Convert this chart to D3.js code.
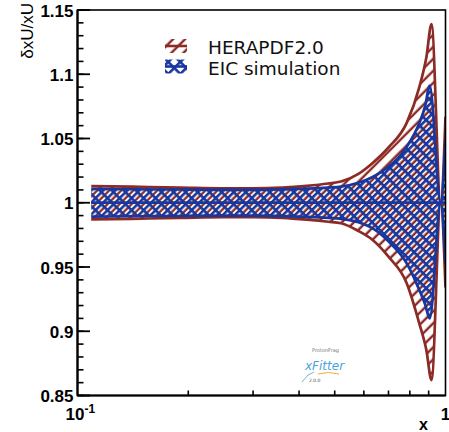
<!DOCTYPE html>
<html>
<head>
<meta charset="utf-8">
<script src="https://cdn.jsdelivr.net/npm/d3@7"></script>
<style>
  body { margin: 0; background: #fff; }
  svg { display: block; }
</style>
</head>
<body>
<div id="chart"></div>
<script>
// band edges
var heraX  = [0.109, 0.14, 0.19, 0.25, 0.30, 0.36, 0.42, 0.48, 0.52, 0.58, 0.634, 0.70, 0.784, 0.849, 0.887, 0.916, 0.97, 1.0];
var heraUp = [1.013, 1.0125, 1.0118, 1.0112, 1.0112, 1.0118, 1.0132, 1.0150, 1.0165, 1.0225, 1.031, 1.043, 1.062, 1.090, 1.113, 1.139, 1.0, 1.067];
var heraDn = [0.987, 0.9875, 0.9882, 0.9888, 0.9888, 0.9882, 0.9868, 0.9852, 0.984, 0.978, 0.971, 0.958, 0.9376, 0.906, 0.8855, 0.862, 1.0, 0.934];

var eicX  = [0.109, 0.14, 0.19, 0.25, 0.30, 0.36, 0.42, 0.48, 0.52, 0.58, 0.634, 0.70, 0.784, 0.849, 0.88, 0.906, 0.97, 1.0];
var eicUp = [1.0108, 1.0105, 1.0103, 1.0100, 1.0100, 1.0104, 1.0110, 1.0118, 1.0125, 1.0155, 1.020, 1.028, 1.0433, 1.062, 1.075, 1.091, 1.0, 1.049];
var eicDn = [0.9892, 0.9895, 0.9897, 0.99, 0.99, 0.9896, 0.989, 0.9882, 0.9875, 0.9848, 0.980, 0.970, 0.953, 0.932, 0.921, 0.910, 1.0, 0.953];

var yMajor = [0.85, 0.9, 0.95, 1, 1.05, 1.1, 1.15];
var yLabels = ["0.85", "0.9", "0.95", "1", "1.05", "1.1", "1.15"];
var xMinor = [0.2, 0.3, 0.4, 0.5, 0.6, 0.7, 0.8, 0.9];
var legendNames = ["HERAPDF2.0", "EIC simulation"];

var red = "#8c2a25", blue = "#17369e";

var W = 449, H = 432;
var margin = {top: 10, right: 3.5, bottom: 36.5, left: 77.5};
var width = W - margin.left - margin.right,
    height = H - margin.top - margin.bottom;

var svg = d3.select("#chart").append("svg")
    .attr("width", W).attr("height", H);

var defs = svg.append("defs");

var hs = 8.5;  // hatch spacing
var hp = defs.append("pattern").attr("id", "heraHatch")
    .attr("patternUnits", "userSpaceOnUse").attr("width", hs).attr("height", hs)
    .attr("patternTransform", "rotate(45)");
hp.append("line").attr("x1", hs / 2 + 1.3).attr("x2", hs / 2 + 1.3).attr("y1", 0).attr("y2", hs)
    .attr("stroke", red).attr("stroke-width", 2.4);

var ep = defs.append("pattern").attr("id", "eicHatch")
    .attr("patternUnits", "userSpaceOnUse").attr("width", hs).attr("height", hs)
    .attr("patternTransform", "rotate(45)");
ep.append("line").attr("x1", 1.3).attr("x2", 1.3).attr("y1", 0).attr("y2", hs)
    .attr("stroke", blue).attr("stroke-width", 2.6);
ep.append("line").attr("x1", 0).attr("x2", hs).attr("y1", 1.3).attr("y2", 1.3)
    .attr("stroke", blue).attr("stroke-width", 2.6);

defs.append("clipPath").attr("id", "frame")
  .append("rect").attr("x", 0).attr("y", 0).attr("width", width).attr("height", height);

var g = svg.append("g").attr("transform", "translate(" + margin.left + "," + margin.top + ")");

var x = d3.scaleLog().domain([0.1, 1]).range([0, width]);
var y = d3.scaleLinear().domain([0.85, 1.15]).range([height, 0]);

function drawBand(xs, up, dn, fillId, col)
{
    var pts = xs.map(function(d, i) { return {x: d, up: up[i], dn: dn[i]}; });
    var plot = g.append("g").attr("clip-path", "url(#frame)");
    var area = d3.area().curve(d3.curveMonotoneX)
        .x(function(d) { return x(d.x); })
        .y0(function(d) { return y(d.dn); })
        .y1(function(d) { return y(d.up); });
    plot.append("path").datum(pts).attr("d", area).attr("fill", "url(#" + fillId + ")");
    var lineUp = d3.line().curve(d3.curveMonotoneX)
        .x(function(d) { return x(d.x); }).y(function(d) { return y(d.up); });
    var lineDn = d3.line().curve(d3.curveMonotoneX)
        .x(function(d) { return x(d.x); }).y(function(d) { return y(d.dn); });
    plot.append("path").datum(pts).attr("d", lineUp).attr("fill", "none").attr("stroke", col).attr("stroke-width", 2.7);
    plot.append("path").datum(pts).attr("d", lineDn).attr("fill", "none").attr("stroke", col).attr("stroke-width", 2.7);
    plot.append("line")
        .attr("x1", x(xs[0])).attr("x2", x(xs[xs.length - 1]))
        .attr("y1", y(1)).attr("y2", y(1))
        .attr("stroke", col).attr("stroke-width", 2.7);
}

drawBand(heraX, heraUp, heraDn, "heraHatch", red);
drawBand(eicX, eicUp, eicDn, "eicHatch", blue);

// frame
g.append("rect").attr("x", 0).attr("y", 0).attr("width", width).attr("height", height)
    .attr("fill", "none").attr("stroke", "#000").attr("stroke-width", 1.6);
g.append("line").attr("x1", 0).attr("x2", 0).attr("y1", 0).attr("y2", height)
    .attr("stroke", "#000").attr("stroke-width", 2.2);
g.append("line").attr("x1", 0).attr("x2", width).attr("y1", height).attr("y2", height)
    .attr("stroke", "#000").attr("stroke-width", 2.2);

// y ticks
var yMinor = d3.range(85, 116).map(function(d) { return d / 100; });
g.selectAll(".ymin").data(yMinor).enter().append("line")
    .attr("x1", 0).attr("x2", 6)
    .attr("y1", function(d) { return y(d); }).attr("y2", function(d) { return y(d); })
    .attr("stroke", "#000").attr("stroke-width", 1.6);
g.selectAll(".ymaj").data(yMajor).enter().append("line")
    .attr("x1", 0).attr("x2", 12.5)
    .attr("y1", function(d) { return y(d); }).attr("y2", function(d) { return y(d); })
    .attr("stroke", "#000").attr("stroke-width", 1.8);
g.selectAll(".ylab").data(yMajor).enter().append("text")
    .attr("x", -4).attr("y", function(d) { return y(d) + 6.5; })
    .attr("text-anchor", "end")
    .style("font-family", "Liberation Sans, Arial, sans-serif")
    .style("font-weight", "bold").style("font-size", "17px")
    .text(function(d, i) { return yLabels[i]; });

// x ticks
g.selectAll(".xmin").data(xMinor).enter().append("line")
    .attr("x1", function(d) { return x(d); }).attr("x2", function(d) { return x(d); })
    .attr("y1", height).attr("y2", height - 5)
    .attr("stroke", "#000").attr("stroke-width", 1.6);

var xl = g.append("text").attr("x", -12).attr("y", height + 24.5)
    .style("font-family", "Liberation Sans, Arial, sans-serif")
    .style("font-weight", "bold").style("font-size", "17px");
xl.append("tspan").text("10");
xl.append("tspan").attr("dy", -7).style("font-size", "12px").text("-1");

g.append("text").attr("x", width).attr("y", height + 24.5).attr("text-anchor", "middle")
    .style("font-family", "Liberation Sans, Arial, sans-serif")
    .style("font-weight", "bold").style("font-size", "17px").text("1");

g.append("text").attr("x", width - 22).attr("y", height + 34).attr("text-anchor", "middle")
    .style("font-family", "Liberation Sans, Arial, sans-serif")
    .style("font-weight", "bold").style("font-size", "16px").text("x");

// y title
svg.append("text").attr("transform", "translate(33,3) rotate(-90)")
    .attr("text-anchor", "end")
    .style("font-family", "Liberation Sans, Arial, sans-serif")
    .style("font-size", "17px").text("\u03b4xU/xU");

// legend
var leg = svg.append("g");
var legFill = ["heraHatch", "eicHatch"], legCol = [red, blue], legY = [46, 66.5];
legendNames.forEach(function(name, i) {
    leg.append("rect").attr("x", 165).attr("y", legY[i] - 7).attr("width", 22).attr("height", 14)
        .attr("fill", "url(#" + legFill[i] + ")");
    leg.append("line").attr("x1", 165).attr("x2", 187).attr("y1", legY[i]).attr("y2", legY[i])
        .attr("stroke", legCol[i]).attr("stroke-width", 2.6);
    leg.append("text").attr("x", 208).attr("y", legY[i] + 8)
        .style("font-family", "DejaVu Sans, sans-serif").style("font-size", "18.5px")
        .attr("fill", "#111").text(name);
});

// xFitter logo
var logo = svg.append("g");
logo.append("text").attr("x", 312).attr("y", 352).style("font-family", "DejaVu Sans, sans-serif")
    .style("font-size", "5px").attr("fill", "#777").text("ProtonFrag");
logo.append("text").attr("x", 305).attr("y", 370).style("font-family", "DejaVu Sans, sans-serif")
    .style("font-style", "italic").style("font-size", "12px").attr("fill", "#4aa3dc").text("xFitter");
logo.append("path").attr("d", "M318,374 Q328,371 339,374").attr("fill", "none")
    .attr("stroke", "#f0b030").attr("stroke-width", 1);
logo.append("path").attr("d", "M302,382 L308,375 L314,372").attr("fill", "none")
    .attr("stroke", "#4aa3dc").attr("stroke-width", 0.8);
logo.append("text").attr("x", 309).attr("y", 382).style("font-family", "DejaVu Sans, sans-serif")
    .style("font-size", "4.5px").attr("fill", "#444").text("2.0.0");
</script>
</body>
</html>
